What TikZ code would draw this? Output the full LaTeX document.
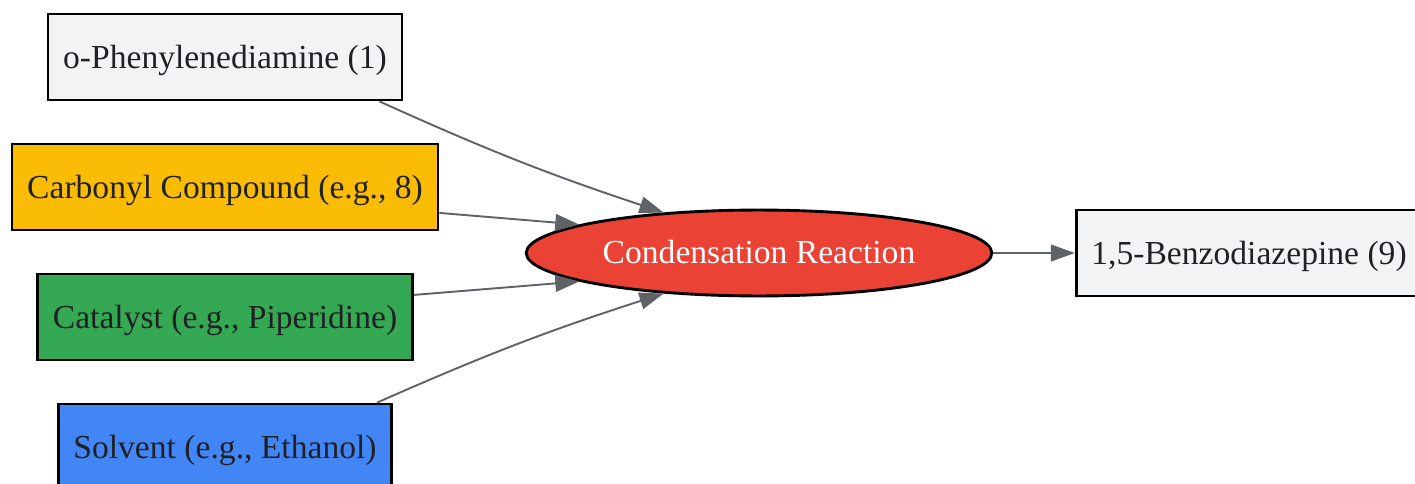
\documentclass[tikz,border=0pt]{standalone}
\usepackage{fontspec}
\setmainfont{Liberation Serif}
\usetikzlibrary{arrows.meta,shapes.geometric}
\definecolor{paper}{HTML}{F1F3F4}
\definecolor{amber}{HTML}{FBBC05}
\definecolor{leaf}{HTML}{34A853}
\definecolor{sky}{HTML}{4285F4}
\definecolor{tomato}{HTML}{EA4335}
\definecolor{ink}{HTML}{202124}
\definecolor{wire}{HTML}{5F6368}
\tikzset{
  reagent/.style={rectangle, draw=black, line width=1.2pt, minimum height=35.8pt,
    inner xsep=6.3pt, text height=12.5pt, text depth=3pt, text=ink,
    font=\fontsize{14pt}{17pt}\selectfont},
  reaction/.style={ellipse, draw=black, line width=1.2pt, fill=tomato, text=white,
    minimum width=194pt, minimum height=35.8pt, inner sep=0pt,
    text height=12pt, text depth=3pt, font=\fontsize{14pt}{17pt}\selectfont},
  feed/.style={draw=wire, line width=0.8pt, -{Triangle[length=10pt,width=7pt]}}
}
\begin{document}
\begin{tikzpicture}[x=0.4167pt,y=-0.4167pt]
\useasboundingbox (0,0) rectangle (1415,484);
% starting materials and conditions
\node [reagent, fill=paper] (diamine) at (225,57) {o-Phenylenediamine (1)};
\node [reagent, fill=amber] (carbonyl) at (225,187) {Carbonyl Compound (e.g., 8)};
\node [reagent, fill=leaf] (catalyst) at (225,317) {Catalyst (e.g., Piperidine)};
\node [reagent, fill=sky] (solvent) at (225,447) {Solvent (e.g., Ethanol)};
% reaction and product
\node [reaction] (condense) at (759,253) {Condensation Reaction};
\node [reagent, fill=paper] (product) at (1249,253) {1,5-Benzodiazepine (9)};
% arrows
\draw [feed] ([xshift=-10pt]diamine.south east) to[bend right=3] (condense.157);
\draw [feed] ([yshift=-10.8pt]carbonyl.east) -- (condense.171);
\draw [feed] ([yshift=9.2pt]catalyst.east) -- (condense.189);
\draw [feed] ([xshift=-6.7pt]solvent.north east) to[bend left=3] (condense.203);
\draw [feed] (condense.east) -- (product.west);
\end{tikzpicture}
\end{document}
